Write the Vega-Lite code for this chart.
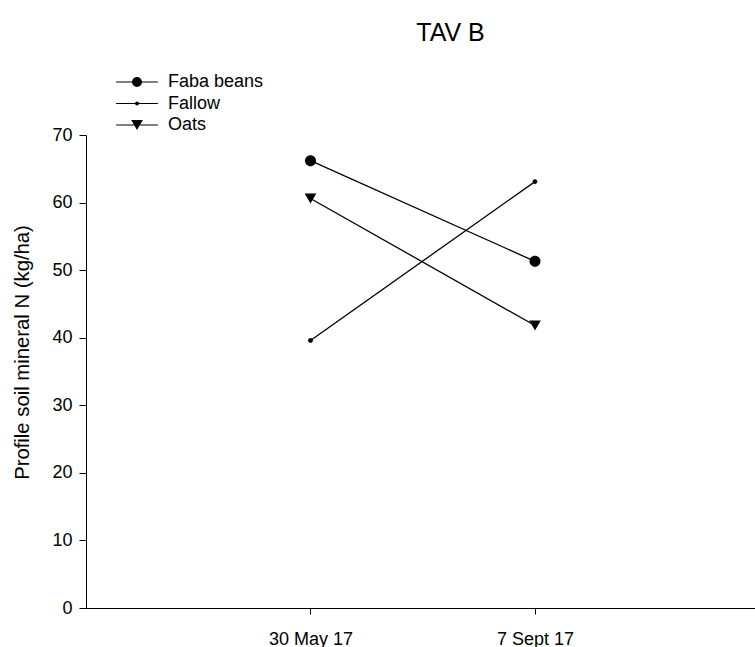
{
  "$schema": "https://vega.github.io/schema/vega-lite/v6.json",
  "width": 669,
  "height": 473,
  "autosize": {"type": "none"},
  "padding": {"left": 86, "top": 135, "right": 0, "bottom": 39},
  "background": "white",
  "config": {
    "view": {"stroke": null},
    "font": "Liberation Sans",
    "axis": {
      "grid": false,
      "domainColor": "black",
      "tickColor": "black",
      "labelColor": "black",
      "titleColor": "black",
      "labelFont": "Liberation Sans",
      "titleFont": "Liberation Sans",
      "titleFontWeight": "normal",
      "domainWidth": 1,
      "tickWidth": 1
    }
  },
  "title": {
    "text": "TAV B",
    "fontSize": 25,
    "fontWeight": "normal",
    "font": "Liberation Sans",
    "color": "black",
    "anchor": "middle",
    "dx": 30,
    "baseline": "alphabetic",
    "offset": 5
  },
  "data": {
    "values": [
      {"series": "Faba beans", "date": "2017-05-30", "value": 66.2},
      {"series": "Faba beans", "date": "2017-09-07", "value": 51.3},
      {"series": "Fallow", "date": "2017-05-30", "value": 39.6},
      {"series": "Fallow", "date": "2017-09-07", "value": 63.1},
      {"series": "Oats", "date": "2017-05-30", "value": 60.6},
      {"series": "Oats", "date": "2017-09-07", "value": 41.8}
    ]
  },
  "encoding": {
    "x": {
      "field": "date",
      "type": "temporal",
      "scale": {
        "type": "utc",
        "domain": [
          {"year": 2017, "month": 2, "date": 19, "utc": true},
          {"year": 2017, "month": 12, "date": 14, "utc": true}
        ]
      },
      "axis": {
        "title": null,
        "values": [
          {"year": 2017, "month": 5, "date": 30, "utc": true},
          {"year": 2017, "month": 9, "date": 7, "utc": true}
        ],
        "labelExpr": "utcmonth(datum.value) == 4 ? '30 May 17' : '7 Sept 17'",
        "tickSize": 6,
        "labelPadding": 30,
        "labelBaseline": "alphabetic",
        "labelFontSize": 18,
        "labelFlush": false,
        "labelOverlap": false
      }
    },
    "y": {
      "field": "value",
      "type": "quantitative",
      "scale": {"domain": [0, 70], "nice": false, "zero": true},
      "axis": {
        "title": "Profile soil mineral N (kg/ha)",
        "values": [0, 10, 20, 30, 40, 50, 60, 70],
        "tickSize": 7,
        "labelPadding": 7,
        "labelFontSize": 18,
        "titleFontSize": 20.3,
        "titleX": -58,
        "titleY": 217,
        "titleAngle": 270,
        "titleAlign": "center",
        "titleBaseline": "alphabetic",
        "labelFlush": false
      }
    }
  },
  "resolve": {"scale": {"shape": "independent"}},
  "layer": [
    {
      "mark": {"type": "line", "color": "black", "strokeWidth": 1.3},
      "encoding": {"detail": {"field": "series"}}
    },
    {
      "mark": {"type": "point", "filled": true, "color": "black", "opacity": 1, "strokeWidth": 0, "size": 484},
      "encoding": {
        "shape": {
          "field": "series",
          "type": "nominal",
          "scale": {
            "domain": ["Faba beans", "Fallow", "Oats"],
            "range": [
              "M-0.5,0A0.5,0.5,0,1,1,0.5,0A0.5,0.5,0,1,1,-0.5,0Z",
              "M-0.22,0A0.22,0.22,0,1,1,0.22,0A0.22,0.22,0,1,1,-0.22,0Z",
              "M-0.53,-0.46L0.53,-0.46L0,0.46Z"
            ]
          },
          "legend": null
        }
      }
    },
    {
      "transform": [{"filter": "false"}],
      "mark": {"type": "point", "filled": true, "fill": "black", "opacity": 1, "strokeWidth": 0, "size": 484},
      "encoding": {
        "shape": {
          "field": "series",
          "type": "nominal",
          "scale": {
            "domain": ["Faba beans", "Fallow", "Oats"],
            "range": [
              "M-1.9,-0.055H1.9V0.055H-1.9ZM-0.45,0A0.45,0.45,0,1,1,0.45,0A0.45,0.45,0,1,1,-0.45,0Z",
              "M-1.9,-0.055H1.9V0.055H-1.9ZM-0.18,0A0.18,0.18,0,1,1,0.18,0A0.18,0.18,0,1,1,-0.18,0Z",
              "M-1.9,-0.055H1.9V0.055H-1.9ZM-0.53,-0.46L0.53,-0.46L0,0.46Z"
            ]
          },
          "legend": {
            "title": null,
            "orient": "none",
            "legendX": 40,
            "legendY": -64,
            "padding": 0,
            "rowPadding": 1.5,
            "symbolSize": 484,
            "labelOffset": 20,
            "labelFontSize": 18,
            "labelFont": "Liberation Sans",
            "labelColor": "black",
            "labelLimit": 300,
            "symbolFillColor": "black",
            "symbolStrokeWidth": 0,
            "symbolOpacity": 1
          }
        }
      }
    }
  ]
}
